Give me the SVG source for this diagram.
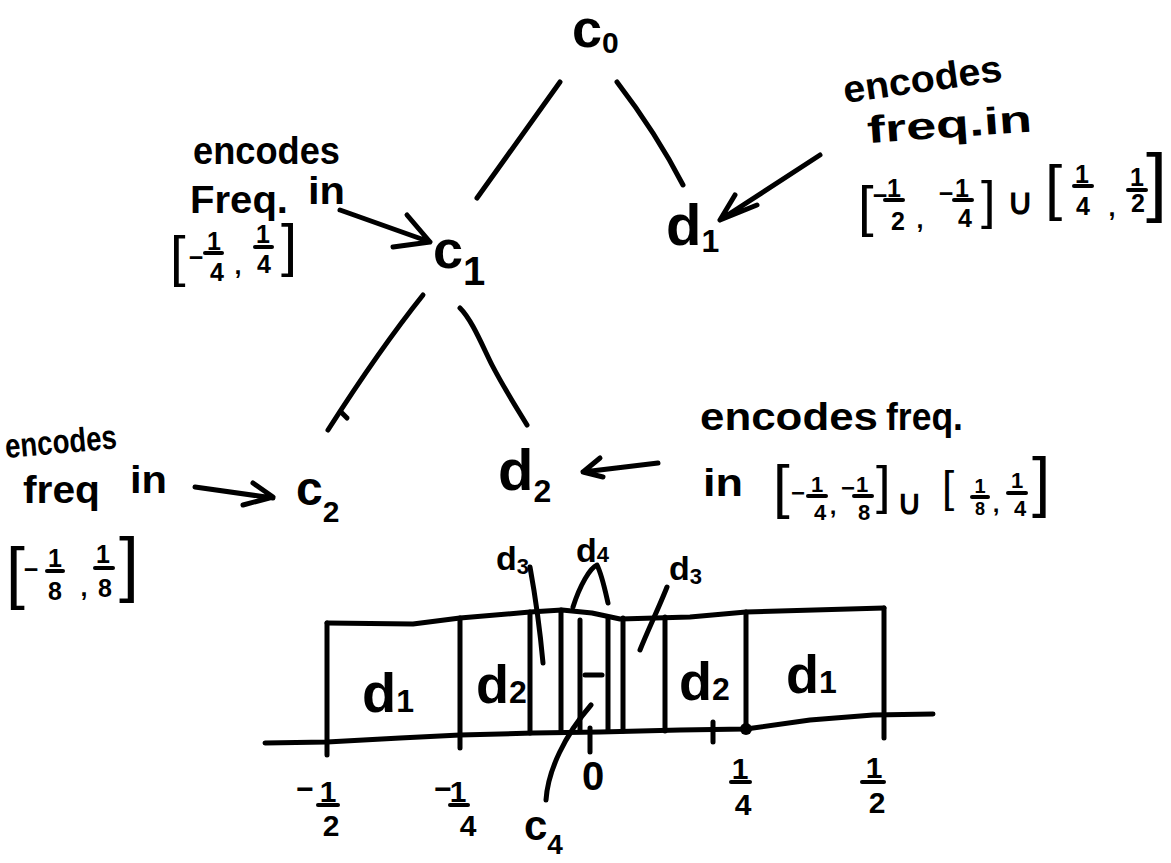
<svg xmlns="http://www.w3.org/2000/svg" width="1171" height="863" viewBox="0 0 1171 863">
<style>
.ln{stroke:#000;stroke-width:5;fill:none;stroke-linecap:round;stroke-linejoin:round}
.t{font-family:"Liberation Sans",Arial,sans-serif;font-weight:bold;fill:#000}
.lb{font-size:38px}
.fr{text-anchor:middle}
.br{font-family:"Liberation Sans",Arial,sans-serif;font-weight:normal;fill:#000}
.fb{stroke:#000;stroke-width:4;stroke-linecap:round}
</style>
<rect width="1171" height="863" fill="#fff"/>

<g id="connectors">
  <path class="ln" d="M560,82 L477,198"/>
  <path class="ln" d="M617,82 C640,112 665,150 683,185"/>
  <path class="ln" d="M423,295 C395,330 360,380 328,430"/>
  <path class="ln" d="M341,412 L347,418"/>
  <path class="ln" d="M460,308 C472,320 482,345 492,365 C505,390 518,410 527,425"/>
  <path class="ln" d="M340,210 L430,242 M407,215 L430,242 L393,247"/>
  <path class="ln" d="M820,155 L720,220 M735,195 L720,220 L757,205"/>
  <path class="ln" d="M195,487 L273,498 M253,483 L273,497 L243,505"/>
  <path class="ln" d="M658,463 L583,472 M600,458 L583,472 L603,477"/>
</g>

<g id="c0"><text class="t" font-size="54" x="572" y="47">c<tspan font-size="30" dy="6">0</tspan></text></g>
<g id="c1"><text class="t" font-size="54" x="433" y="268">c<tspan font-size="40" dy="17">1</tspan></text></g>
<g id="d1"><text class="t" font-size="58" x="666" y="245">d<tspan font-size="32" dy="7">1</tspan></text></g>
<g id="c2"><text class="t" font-size="48" x="296" y="505">c<tspan font-size="30" dy="17">2</tspan></text></g>
<g id="d2"><text class="t" font-size="58" x="498" y="490">d<tspan font-size="32" dy="12">2</tspan></text></g>

<g id="label-c1">
  <text class="t lb" x="193" y="164" textLength="147" lengthAdjust="spacingAndGlyphs">encodes</text>
  <text class="t lb" x="190" y="213" textLength="98" lengthAdjust="spacingAndGlyphs">Freq.</text>
  <text class="t lb" x="308" y="204" textLength="37" lengthAdjust="spacingAndGlyphs">in</text>
  <text class="br" font-size="56" x="170" y="275">[</text>
  <text class="t fr" font-size="25" x="196" y="266">−</text>
  <text class="t fr" font-size="25" x="214" y="250">1</text><line class="fb" x1="205" y1="253" x2="222" y2="253"/><text class="t fr" font-size="25" x="217" y="281">4</text>
  <text class="t fr" font-size="25" x="238" y="274">,</text>
  <text class="t fr" font-size="25" x="263" y="243">1</text><line class="fb" x1="255" y1="247" x2="272" y2="247"/><text class="t fr" font-size="25" x="264" y="273">4</text>
  <text class="br" font-size="58" x="281" y="265">]</text>
</g>

<g id="label-d1">
  <text class="t lb" x="845" y="103" transform="rotate(-8 845 103)" textLength="160" lengthAdjust="spacingAndGlyphs">encodes</text>
  <text class="t lb" x="868" y="143" transform="rotate(-4 868 143)" textLength="165" lengthAdjust="spacingAndGlyphs">freq.in</text>
  <text class="br" font-size="56" x="858" y="225">[</text>
  <text class="t fr" font-size="25" x="880" y="204">−</text>
  <text class="t fr" font-size="25" x="894" y="197">1</text><line class="fb" x1="885" y1="200" x2="903" y2="200"/><text class="t fr" font-size="25" x="898" y="230">2</text>
  <text class="t fr" font-size="25" x="920" y="228">,</text>
  <text class="t fr" font-size="25" x="946" y="202">−</text>
  <text class="t fr" font-size="25" x="962" y="197">1</text><line class="fb" x1="954" y1="200" x2="972" y2="200"/><text class="t fr" font-size="25" x="965" y="227">4</text>
  <text class="br" font-size="52" x="981" y="218">]</text>
  <text class="t" font-size="36" text-anchor="middle" x="1020" y="214">∪</text>
  <text class="br" font-size="62" x="1045" y="208">[</text>
  <text class="t fr" font-size="25" x="1082" y="183">1</text><line class="fb" x1="1074" y1="186" x2="1092" y2="186"/><text class="t fr" font-size="25" x="1083" y="215">4</text>
  <text class="t fr" font-size="25" x="1112" y="216">,</text>
  <text class="t fr" font-size="25" x="1137" y="186">1</text><line class="fb" x1="1128" y1="190" x2="1146" y2="190"/><text class="t fr" font-size="25" x="1138" y="212">2</text>
  <text class="br" font-size="76" x="1146" y="207">]</text>
</g>

<g id="label-c2">
  <text class="t" font-size="34" x="6" y="458" transform="rotate(-5 6 458)" textLength="112" lengthAdjust="spacingAndGlyphs">encodes</text>
  <text class="t lb" x="23" y="503" textLength="77" lengthAdjust="spacingAndGlyphs">freq</text>
  <text class="t lb" x="130" y="493" textLength="37" lengthAdjust="spacingAndGlyphs">in</text>
  <text class="br" font-size="68" x="6" y="596">[</text>
  <text class="t fr" font-size="25" x="31" y="578">−</text>
  <text class="t fr" font-size="25" x="55" y="567">1</text><line class="fb" x1="47" y1="571" x2="63" y2="571"/><text class="t fr" font-size="25" x="55" y="600">8</text>
  <text class="t fr" font-size="25" x="84" y="596">,</text>
  <text class="t fr" font-size="25" x="103" y="563">1</text><line class="fb" x1="95" y1="568" x2="113" y2="568"/><text class="t fr" font-size="25" x="105" y="597">8</text>
  <text class="br" font-size="72" x="119" y="588">]</text>
</g>

<g id="label-d2">
  <text class="t lb" x="700" y="430" textLength="178" lengthAdjust="spacingAndGlyphs">encodes</text>
  <text class="t lb" x="886" y="430" textLength="77" lengthAdjust="spacingAndGlyphs">freq.</text>
  <text class="t lb" x="703" y="496" textLength="40" lengthAdjust="spacingAndGlyphs">in</text>
  <text class="br" font-size="60" x="773" y="507">[</text>
  <text class="t fr" font-size="24" x="798" y="501">−</text>
  <text class="t fr" font-size="22" x="817" y="492">1</text><line class="fb" x1="808" y1="496" x2="826" y2="496"/><text class="t fr" font-size="22" x="820" y="520">4</text>
  <text class="t fr" font-size="24" x="833" y="514">,</text>
  <text class="t fr" font-size="24" x="848" y="496">−</text>
  <text class="t fr" font-size="22" x="862" y="492">1</text><line class="fb" x1="854" y1="496" x2="872" y2="496"/><text class="t fr" font-size="22" x="864" y="520">8</text>
  <text class="br" font-size="52" x="876" y="503">]</text>
  <text class="t" font-size="34" text-anchor="middle" x="909" y="514">∪</text>
  <text class="br" font-size="44" x="942" y="502">[</text>
  <text class="t fr" font-size="20" x="980" y="493">1</text><line class="fb" x1="972" y1="497" x2="988" y2="497"/><text class="t fr" font-size="18" x="980" y="515">8</text>
  <text class="t fr" font-size="24" x="996" y="512">,</text>
  <text class="t fr" font-size="22" x="1017" y="488">1</text><line class="fb" x1="1008" y1="493" x2="1026" y2="493"/><text class="t fr" font-size="22" x="1020" y="516">4</text>
  <text class="br" font-size="66" x="1032" y="504">]</text>
</g>

<g id="bar">
  <path class="ln" d="M327,623 L413,624 L460,618 L530,612 L562,610 L592,613 L620,619 L690,617 L746,612 L884,608"/>
  <path class="ln" d="M265,743 L327,742 L400,738 L460,735 L533,733 L600,732 L680,730 L746,729 L810,720 L873,715 L933,714"/>
  <path class="ln" d="M327,623 L327,755"/>
  <path class="ln" d="M460,618 L460,748"/>
  <path class="ln" d="M530,612 L530,733"/>
  <path class="ln" d="M561,610 L561,731"/>
  <path class="ln" d="M580,620 L580,731"/>
  <path class="ln" d="M608,618 L608,731"/>
  <path class="ln" d="M623,618 L623,731"/>
  <path class="ln" d="M665,617 L665,731"/>
  <path class="ln" d="M746,612 L746,730"/>
  <path class="ln" d="M884,608 L884,738"/>
  <path class="ln" d="M713,722 L713,742"/>
  <circle cx="746" cy="729" r="6" fill="#000"/>
  <path class="ln" d="M590,728 L590,752"/>
  <path class="ln" d="M585,675 L602,675"/>
  <path class="ln" d="M530,567 C536,600 540,630 543,663"/>
  <path class="ln" d="M573,607 C580,585 590,568 597,565 C602,575 605,590 608,603"/>
  <path class="ln" d="M667,587 C660,605 648,630 640,650"/>
  <path class="ln" d="M546,800 C548,770 565,735 591,705"/>
  <text class="t" font-size="56" x="362" y="712">d<tspan font-size="32">1</tspan></text>
  <text class="t" font-size="54" x="476" y="703">d<tspan font-size="32">2</tspan></text>
  <text class="t" font-size="54" x="679" y="700">d<tspan font-size="32">2</tspan></text>
  <text class="t" font-size="54" x="786" y="693">d<tspan font-size="32">1</tspan></text>
  <text class="t" font-size="34" x="496" y="570">d<tspan font-size="22" dy="4">3</tspan></text>
  <text class="t" font-size="34" x="576" y="562">d<tspan font-size="22">4</tspan></text>
  <text class="t" font-size="34" x="669" y="580">d<tspan font-size="22" dy="4">3</tspan></text>
  <text class="t fr" font-size="30" x="305" y="799">−</text>
  <text class="t fr" font-size="30" x="328" y="802">1</text><line class="fb" x1="318" y1="805" x2="338" y2="805"/><text class="t fr" font-size="30" x="331" y="836">2</text>
  <text class="t fr" font-size="30" x="443" y="799">−</text>
  <text class="t fr" font-size="30" x="458" y="802">1</text><line class="fb" x1="450" y1="805" x2="468" y2="805"/><text class="t fr" font-size="30" x="468" y="836">4</text>
  <text class="t fr" font-size="40" x="593" y="790">0</text>
  <text class="t fr" font-size="30" x="740" y="779">1</text><line class="fb" x1="731" y1="782" x2="750" y2="782"/><text class="t fr" font-size="30" x="743" y="815">4</text>
  <text class="t fr" font-size="30" x="874" y="778">1</text><line class="fb" x1="862" y1="782" x2="884" y2="782"/><text class="t fr" font-size="30" x="877" y="813">2</text>
  <text class="t" font-size="42" x="524" y="840">c<tspan font-size="28" dy="14">4</tspan></text>
</g>
</svg>
